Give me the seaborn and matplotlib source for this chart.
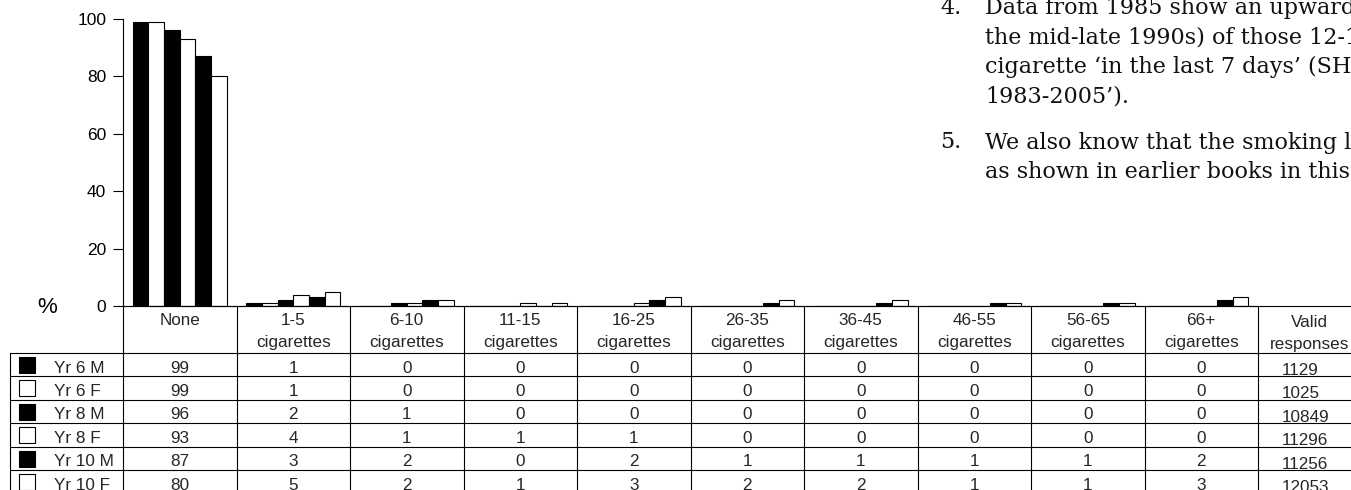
import matplotlib
matplotlib.use("Agg")
import matplotlib.pyplot as plt
import matplotlib.transforms as mtrans
from matplotlib.lines import Line2D
from matplotlib.patches import Rectangle
import seaborn as sns
import pandas as pd

# ---------------- data ----------------
ranges = ["None", "1-5", "6-10", "11-15", "16-25", "26-35", "36-45", "46-55", "56-65", "66+"]
unit = "cigarettes"
series = ["Yr 6 M", "Yr 6 F", "Yr 8 M", "Yr 8 F", "Yr 10 M", "Yr 10 F"]
yr6_m = [99, 1, 0, 0, 0, 0, 0, 0, 0, 0]
yr6_f = [99, 1, 0, 0, 0, 0, 0, 0, 0, 0]
yr8_m = [96, 2, 1, 0, 0, 0, 0, 0, 0, 0]
yr8_f = [93, 4, 1, 1, 1, 0, 0, 0, 0, 0]
yr10_m = [87, 3, 2, 0, 2, 1, 1, 1, 1, 2]
yr10_f = [80, 5, 2, 1, 3, 2, 2, 1, 1, 3]
valid_responses = [1129, 1025, 10849, 11296, 11256, 12053]
yticks = [0, 20, 40, 60, 80, 100]
side_text = [
    ("4.", ["Data from 1985 show an upward", "the mid-late 1990s) of those 12-15",
            "cigarette \u2018in the last 7 days\u2019 (SHE", "1983-2005\u2019)."]),
    ("5.", ["We also know that the smoking l", "as shown in earlier books in this"]),
]

values = [yr6_m, yr6_f, yr8_m, yr8_f, yr10_m, yr10_f]
records = []
for s, vals in zip(series, values):
    for c, v in zip(ranges, vals):
        records.append({"cat": c, "series": s, "value": v})
df = pd.DataFrame(records)

# ---------------- style ----------------
sns.set_theme(style="ticks")
plt.rcParams["font.family"] = ["Liberation Sans", "DejaVu Sans"]

W, H = 1351, 490
fig = plt.figure(figsize=(W / 100, H / 100), dpi=100)
fig.patch.set_facecolor("white")
ax = fig.add_axes([123 / W, 1 - 306 / H, 1135 / W, 287 / H])
ax.set_facecolor("white")

palette = {s: ("black" if s.endswith("M") else "white") for s in series}
sns.barplot(data=df, x="cat", y="value", hue="series", order=ranges,
            hue_order=series, palette=palette, saturation=1,
            edgecolor="black", linewidth=0.8, width=0.83,
            errorbar=None, legend=False, ax=ax)

ax.set_xlim(-0.5, len(ranges) - 0.5)
ax.set_ylim(0, 100)
ax.set_yticks(yticks)
ax.set_xlabel("")
ax.set_ylabel("")
ax.tick_params(axis="x", length=0, labelbottom=False)
ax.tick_params(axis="y", length=7, width=0.8, pad=5, labelsize=12.5,
               direction="out", color="black", labelcolor="black")
for sp in ["top", "right"]:
    ax.spines[sp].set_visible(False)
for sp in ["left", "bottom"]:
    ax.spines[sp].set_color("black")
    ax.spines[sp].set_linewidth(0.8)

fig.text(47 / W, 1 - 313 / H, "%", ha="center", va="baseline", fontsize=16, color="black")

# ---------------- table ----------------
trans = mtrans.blended_transform_factory(ax.transData, fig.transFigure)


def fy(p):
    return 1 - p / H


hdr_top, hdr_bot, row_h = 306, 353, 23.4
ncat = len(ranges)
x_left = -1.5
x_right = ncat + 1.2
lw = 0.8


def hline(x0, x1, y):
    fig.add_artist(Line2D([x0, x1], [fy(y), fy(y)], transform=trans, color="black", lw=lw))


def vline(x, y0, y1):
    fig.add_artist(Line2D([x, x], [fy(y0), fy(y1)], transform=trans, color="black", lw=lw))


hline(-0.5, x_right, hdr_top)
for k in range(len(series) + 1):
    hline(x_left, x_right, hdr_bot + row_h * k)
for i in range(ncat + 1):
    vline(i - 0.5, hdr_top, H + 5)
vline(x_left, hdr_bot, H + 5)

fs = 12.3
for i, r in enumerate(ranges):
    fig.text(i, fy(325), r, transform=trans, ha="center", va="baseline", fontsize=fs)
    if r != "None":
        fig.text(i, fy(347), unit, transform=trans, ha="center", va="baseline", fontsize=fs)

valid_c = ncat - 0.5 + 0.45
fig.text(valid_c, fy(327), "Valid", transform=trans, ha="center", va="baseline", fontsize=fs)
fig.text(valid_c, fy(349), "responses", transform=trans, ha="center", va="baseline", fontsize=fs)

for k, (s, vals) in enumerate(zip(series, values)):
    top = hdr_bot + row_h * k
    base = top + 19.5
    fc = "black" if s.endswith("M") else "white"
    ax_sq = Rectangle((x_left + 0.085, fy(top + 20)), 0.141, 16 / H, transform=trans,
                      facecolor=fc, edgecolor="black", lw=0.8)
    fig.add_artist(ax_sq)
    fig.text(x_left + 0.394, fy(base), s, transform=trans, ha="left", va="baseline", fontsize=fs)
    for i, v in enumerate(vals):
        fig.text(i, fy(base), str(v), transform=trans, ha="center", va="baseline", fontsize=fs)
    fig.text(ncat - 0.5 + 0.21, fy(top + 22), str(valid_responses[k]), transform=trans,
             ha="left", va="baseline", fontsize=fs)

# ---------------- side text ----------------
y = 14
for num, lines in side_text:
    fig.text(940 / W, fy(y), num, ha="left", va="baseline", fontsize=16,
             family="DejaVu Serif", color="#111111")
    for ln in lines:
        fig.text(985 / W, fy(y), ln, ha="left", va="baseline", fontsize=16,
                 family="DejaVu Serif", color="#111111")
        y += 29.5
    y += 16.5

fig.savefig("out.png", dpi=100, facecolor="white")
